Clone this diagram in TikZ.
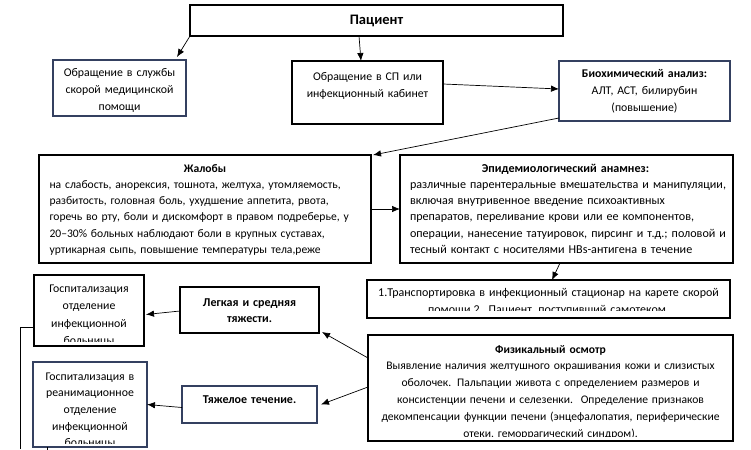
\documentclass[tikz,border=0pt]{standalone}
\usepackage{fontspec}
\setmainfont{Carlito}
\usetikzlibrary{arrows.meta,calc}
\definecolor{navy}{RGB}{52,64,96}
\begin{document}
\begin{tikzpicture}[x=1pt,y=-1pt,
 box/.style={draw=black,line width=1.3pt,inner sep=0pt,outer sep=0pt,anchor=north west},
 nbox/.style={box,draw=navy},
 txt/.style={inner sep=0pt,outer sep=0pt,anchor=base,font=\fontsize{11.8}{16.8}\selectfont},
 conn/.style={line width=0.7pt,-{Latex[length=8pt,width=6.5pt]}},
 plain/.style={line width=0.7pt}
]
\useasboundingbox (0,0) rectangle (751,449);
\fill[white] (0,0) rectangle (751,449);
% boxes
\node[box, minimum width=373pt, minimum height=31pt] (pac) at (190,5) {};
\node[nbox, minimum width=133pt, minimum height=56pt] (smp) at (53,60) {};
\node[box, minimum width=151pt, minimum height=63pt] (sp) at (292,61) {};
\node[nbox, minimum width=171pt, minimum height=60pt] (bio) at (559,61) {};
\node[box, minimum width=332pt, minimum height=108pt] (zhal) at (39,155) {};
\node[box, minimum width=333pt, minimum height=108pt] (epid) at (400,155) {};
\node[box, minimum width=363pt, minimum height=38pt] (trans) at (367,280) {};
\node[box, minimum width=365pt, minimum height=106pt] (fiz) at (368,335) {};
\node[box, minimum width=139pt, minimum height=46pt] (leg) at (180,287) {};
\node[nbox, minimum width=135pt, minimum height=37pt] (tyazh) at (182,386) {};
\node[box, minimum width=110pt, minimum height=71pt] (gosp1) at (34,275) {};
\node[nbox, minimum width=114pt, minimum height=85pt] (gosp2) at (33,362) {};
% texts
\node[txt, font=\fontsize{14.5}{17}\selectfont\bfseries] (tpac) at (376.5,25) {Пациент};
\node[txt, text width=130pt, align=center] (tsmp) at (119.5,77) {Обращение в службы\\скорой медицинской\\помощи};
\node[txt, text width=148pt, align=center] (tsp) at (367.5,81) {Обращение в СП или\\инфекционный кабинет};
\node[txt, text width=168pt, align=center] (tbio) at (644.5,78) {\textbf{Биохимический анализ:}\\АЛТ, АСТ, билирубин\\(повышение)};
\node[txt, text width=311pt, align=left, font=\fontsize{11.6}{16.3}\selectfont] (tzhal) at (205,172) {\hfill\textbf{Жалобы}\hfill\null\\на слабость, анорексия, тошнота, желтуха, утомляемость,\\разбитость, головная боль, ухудшение аппетита, рвота,\\горечь во рту, боли и дискомфорт в правом подреберье, у\\20–30\% больных наблюдают боли в крупных суставах,\\уртикарная сыпь, повышение температуры тела,реже};
\node[txt, anchor=base west, text width=320pt, align=left, font=\fontsize{12.1}{16.3}\selectfont] (tepid) at (410,172) {\makebox[311pt][c]{\textbf{Эпидемиологический анамнез:}}\\различные парентеральные вмешательства и манипуляции,\\включая внутривенное введение психоактивных\\препаратов, переливание крови или ее компонентов,\\операции, нанесение татуировок, пирсинг и т.д.; половой и\\тесный контакт с носителями HBs-антигена в течение};
\begin{scope}
\clip (trans.north west) rectangle ($(trans.south east)+(0,-8)$);
\node[txt, text width=360pt, align=center, font=\fontsize{12}{16.8}\selectfont] (ttrans) at (548.5,296.5) {1.Транспортировка в инфекционный стационар на карете скорой\\помощи.2. Пациент, поступивший самотеком.};
\end{scope}
\begin{scope}
\clip (fiz.north west) rectangle ($(fiz.south east)+(0,-5)$);
\node[txt, text width=362pt, align=center, font=\fontsize{11.6}{16.8}\selectfont] (tfiz) at (550.5,353) {\textbf{Физикальный осмотр}\\Выявление наличия желтушного окрашивания кожи и слизистых\\оболочек. Пальпации живота с определением размеров и\\консистенции печени и селезенки.\ \ Определение признаков\\декомпенсации функции печени (энцефалопатия, периферические\\отеки, геморрагический синдром).};
\end{scope}
\node[txt, text width=136pt, align=center, font=\fontsize{12}{16.5}\selectfont\bfseries] (tleg) at (249.5,306) {Легкая и средняя\\тяжести.};
\node[txt, text width=132pt, align=center, font=\fontsize{12}{16.5}\selectfont\bfseries] (ttyazh) at (249.5,403) {Тяжелое течение.};
\begin{scope}
\clip (gosp1.north west) rectangle ($(gosp1.south east)+(0,-5)$);
\node[txt, text width=107pt, align=center, font=\fontsize{11.8}{17.4}\selectfont] (tg1) at (89,292.5) {Госпитализация\\отделение\\инфекционной\\больницы};
\end{scope}
\begin{scope}
\clip (gosp2.north west) rectangle ($(gosp2.south east)+(0,-4)$);
\node[txt, text width=111pt, align=center, font=\fontsize{11.8}{16.7}\selectfont] (tg2) at (90,380) {Госпитализация в\\реанимационное\\отделение\\инфекционной\\больницы};
\end{scope}
% connectors
\draw[conn] (pac.south west) -- ($(smp.north east)+(-9,-3)$);
\draw[conn] ($(pac.south)+(-17.5,0)$) -- ($(sp.north west)+(69,0)$);
\draw[conn] ($(sp.north east)+(0,23)$) -- ($(bio.west)+(0,-2)$);
\draw[conn] ($(bio.south west)+(0,-3)$) -- ($(zhal.north east)+(2,0)$);
\draw[conn] (zhal.east) -- (epid.west);
\draw[conn] ($(epid.south)+(-6.5,0)$) -- ($(trans.north)+(3.5,0)$);
\draw[conn] ($(fiz.north west)+(0,23)$) -- ($(leg.south east)+(3,-1)$);
\draw[conn] ($(fiz.north west)+(0,52)$) -- ($(tyazh.east)+(4,0)$);
\draw[conn] ($(leg.west)+(0,1)$) -- ($(gosp1.east)+(2,4)$);
\draw[conn] ($(tyazh.west)+(0,3)$) -- (gosp2.east);
\coordinate (bl) at (20,449);
\draw[plain] ($(gosp1.north west)+(0,52)$) -| (bl);
\draw[plain] ($(gosp2.south west)+(14,0)$) -- +(0,3);
\end{tikzpicture}
\end{document}
